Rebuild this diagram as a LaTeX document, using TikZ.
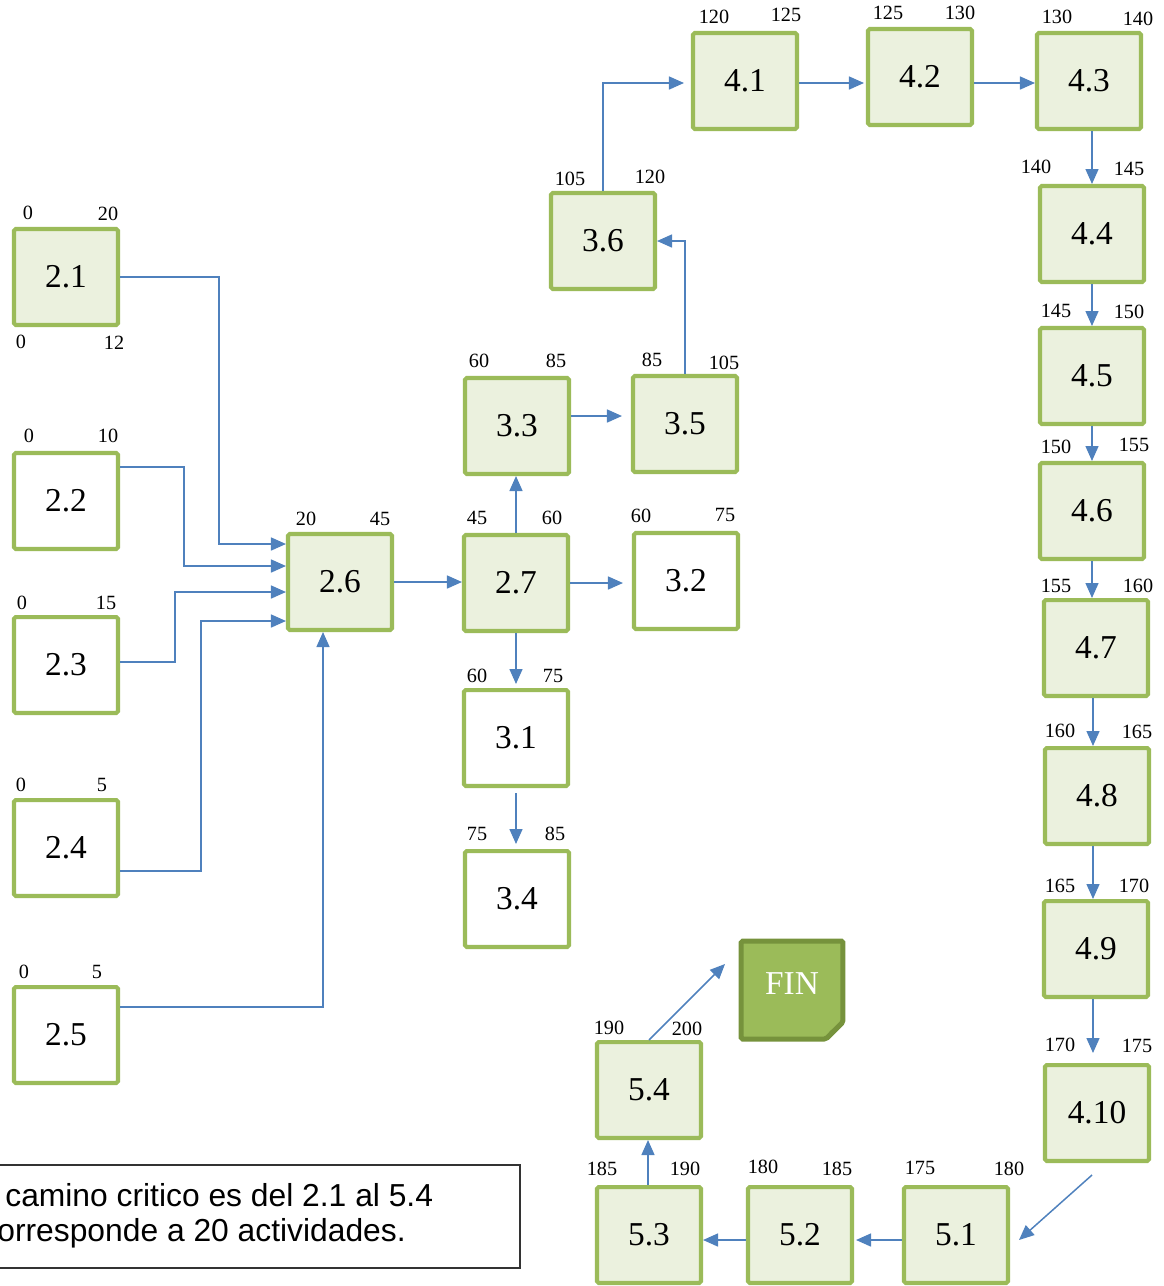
\documentclass[tikz,border=0pt]{standalone}
\usepackage{fontspec}
\setmainfont{Liberation Serif}
\newfontfamily\notefont{Liberation Sans}
\usetikzlibrary{arrows.meta,calc}

\definecolor{boxgreen}{HTML}{9BBB59}
\definecolor{boxfill}{HTML}{EBF1DE}
\definecolor{linkblue}{HTML}{4F81BD}
\definecolor{findark}{HTML}{76923C}

\begin{document}
\begin{tikzpicture}[x=0.02cm,y=-0.02cm,
  act/.style={draw=boxgreen,line width=2.3pt,fill=white,rounded corners=1pt,
    minimum width=2.08cm,minimum height=1.92cm,inner sep=0pt,
    font=\fontsize{19}{22}\selectfont},
  crit/.style={act,fill=boxfill},
  num/.style={inner sep=0pt,font=\fontsize{11.5}{13}\selectfont},
  link/.style={draw=linkblue,line width=0.85pt,-{Triangle[length=0.3cm,width=0.26cm]}},
  finbox/.style={minimum width=2.04cm,minimum height=1.96cm,inner sep=0pt,outer sep=0pt},
  fintext/.style={text=white,font=\fontsize{19}{22}\selectfont}]
\useasboundingbox (0,0) rectangle (1164,1286);
\clip (0,0) rectangle (1164,1286);

% activity boxes
\node[crit] (a21) at (66,277) {2.1};
\node[act] (a22) at (66,501) {2.2};
\node[act] (a23) at (66,665) {2.3};
\node[act] (a24) at (66,848) {2.4};
\node[act] (a25) at (66,1035) {2.5};
\node[crit] (a26) at (340,582) {2.6};
\node[crit] (a27) at (516,583) {2.7};
\node[act] (a31) at (516,738) {3.1};
\node[act] (a34) at (517,899) {3.4};
\node[act] (a32) at (686,581) {3.2};
\node[crit] (a33) at (517,426) {3.3};
\node[crit] (a35) at (685,424) {3.5};
\node[crit] (a36) at (603,241) {3.6};
\node[crit] (a41) at (745,81) {4.1};
\node[crit] (a42) at (920,77) {4.2};
\node[crit] (a43) at (1089,81) {4.3};
\node[crit] (a44) at (1092,234) {4.4};
\node[crit] (a45) at (1092,376) {4.5};
\node[crit] (a46) at (1092,511) {4.6};
\node[crit] (a47) at (1096,648) {4.7};
\node[crit] (a48) at (1097,796) {4.8};
\node[crit] (a49) at (1096,949) {4.9};
\node[crit] (a410) at (1097,1113) {4.10};
\node[crit] (a51) at (956,1235) {5.1};
\node[crit] (a52) at (800,1235) {5.2};
\node[crit] (a53) at (649,1235) {5.3};
\node[crit] (a54) at (649,1090) {5.4};

% end marker
\node[finbox] (fin) at (792,990) {};
\draw[findark,line width=0.1cm,fill=boxgreen,rounded corners=1pt]
  (fin.north west) -- (fin.north east) -- ($(fin.south east)+(0,-17)$)
  -- ($(fin.south east)+(-17,0)$) -- (fin.south west) -- cycle;
\fill[findark] ($(fin.south east)+(0,-17)$) -- ($(fin.south east)+(-17,0)$)
  -- ($(fin.south east)+(-13,-8)$) -- cycle;
\node[fintext] (finlabel) at ($(fin)+(0,-6)$) {FIN};

% times
\node[num] (t21l) at (28,213) {0};
\node[num] (t21r) at (108,214) {20};
\node[num] (b21l) at (21,342) {0};
\node[num] (b21r) at (114,343) {12};
\node[num] (t22l) at (29,436) {0};
\node[num] (t22r) at (108,436) {10};
\node[num] (t23l) at (22,603) {0};
\node[num] (t23r) at (106,603) {15};
\node[num] (t24l) at (21,785) {0};
\node[num] (t24r) at (102,785) {5};
\node[num] (t25l) at (24,972) {0};
\node[num] (t25r) at (97,972) {5};
\node[num] (t26l) at (306,519) {20};
\node[num] (t26r) at (380,519) {45};
\node[num] (t27l) at (477,518) {45};
\node[num] (t27r) at (552,518) {60};
\node[num] (t31l) at (477,676) {60};
\node[num] (t31r) at (553,676) {75};
\node[num] (t34l) at (477,834) {75};
\node[num] (t34r) at (555,834) {85};
\node[num] (t32l) at (641,516) {60};
\node[num] (t32r) at (725,515) {75};
\node[num] (t33l) at (479,361) {60};
\node[num] (t33r) at (556,361) {85};
\node[num] (t35l) at (652,360) {85};
\node[num] (t35r) at (724,363) {105};
\node[num] (t36l) at (570,179) {105};
\node[num] (t36r) at (650,177) {120};
\node[num] (t41l) at (714,17) {120};
\node[num] (t41r) at (786,15) {125};
\node[num] (t42l) at (888,13) {125};
\node[num] (t42r) at (960,13) {130};
\node[num] (t43l) at (1057,17) {130};
\node[num] (t43r) at (1138,19) {140};
\node[num] (t44l) at (1036,167) {140};
\node[num] (t44r) at (1129,169) {145};
\node[num] (t45l) at (1056,311) {145};
\node[num] (t45r) at (1129,312) {150};
\node[num] (t46l) at (1056,447) {150};
\node[num] (t46r) at (1134,445) {155};
\node[num] (t47l) at (1056,586) {155};
\node[num] (t47r) at (1138,586) {160};
\node[num] (t48l) at (1060,731) {160};
\node[num] (t48r) at (1137,732) {165};
\node[num] (t49l) at (1060,886) {165};
\node[num] (t49r) at (1134,886) {170};
\node[num] (t410l) at (1060,1045) {170};
\node[num] (t410r) at (1137,1046) {175};
\node[num] (t51l) at (920,1168) {175};
\node[num] (t51r) at (1009,1169) {180};
\node[num] (t52l) at (763,1167) {180};
\node[num] (t52r) at (837,1169) {185};
\node[num] (t53l) at (602,1169) {185};
\node[num] (t53r) at (685,1169) {190};
\node[num] (t54l) at (609,1028) {190};
\node[num] (t54r) at (687,1029) {200};

% links
\draw[link] (a21.east) -- ++(99,0) |- ($(a26.west)+(0,-38)$);
\draw[link] ($(a22.east)+(0,-34)$) -- ++(64,0) |- ($(a26.west)+(0,-16)$);
\draw[link] ($(a23.east)+(0,-3)$) -- ++(55,0) |- ($(a26.west)+(0,10)$);
\draw[link] ($(a24.east)+(0,23)$) -- ++(81,0) |- ($(a26.west)+(0,39)$);
\draw[link] ($(a25.east)+(0,-28)$) -| ($(a26.south)+(-17,0)$);
\draw[link] (a26.east) -- (a26.east -| a27.west);
\draw[link,shorten >=0.18cm] (a27.east) -- (a27.east -| a32.west);
\draw[link] (a27.north) -- (a27.north |- a33.south);
\draw[link,shorten >=0.08cm] (a27.south) -- (a31.north);
\draw[link,shorten <=0.1cm,shorten >=0.1cm] (a31.south) -- (a31.south |- a34.north);
\draw[link,shorten >=0.18cm] ($(a33.east)+(0,-10)$) -- ($(a35.west)+(0,-8)$);
\draw[link] (a35.north) |- (a36.east);
\draw[link,shorten >=0.14cm] (a36.north) |- ($(a41.west)+(0,2)$);
\draw[link,shorten >=0.04cm] ($(a41.east)+(0,2)$) -- ($(a41.east -| a42.west)+(0,2)$);
\draw[link] ($(a42.east |- a41.east)+(0,2)$) -- ($(a43.west)+(0,2)$);
\draw[link] (a44.north |- a43.south) -- (a44.north);
\draw[link] (a44.south) -- (a45.north);
\draw[link] (a45.south) -- (a46.north);
\draw[link] (a46.south) -- (a46.south |- a47.north);
\draw[link] ($(a47.south)+(-3,0)$) -- ($(a47.south |- a48.north)+(-3,0)$);
\draw[link] ($(a48.south)+(-4,0)$) -- ($(a48.south |- a49.north)+(-4,0)$);
\draw[link,shorten >=0.2cm] ($(a49.south)+(-3,0)$) -- ($(a49.south |- a410.north)+(-3,0)$);
\draw[link] ($(a410.south)+(-5,12)$) -- ($(a51.east)+(9,5)$);
\draw[link,shorten >=0.04cm] ($(a51.west)+(0,5)$) -- ($(a52.east)+(0,5)$);
\draw[link] ($(a52.west)+(0,5)$) -- ($(a53.east)+(0,5)$);
\draw[link] ($(a53.north)+(-1,0)$) -- ($(a54.south)+(-1,0)$);
\draw[link] (a54.north) -- ($(fin.west)+(-16,-26)$);

% note
\draw[black!80,line width=0.6pt] (-10,1165) rectangle (520,1268);
\node[anchor=base west,inner sep=0pt,font=\notefont\fontsize{18.1}{20}\selectfont]
  (note1) at (5,1206) {camino critico es del 2.1 al 5.4};
\node[anchor=base west,inner sep=0pt,font=\notefont\fontsize{18.1}{20}\selectfont]
  (note2) at (-3,1241) {orresponde a 20 actividades.};
\end{tikzpicture}
\end{document}
